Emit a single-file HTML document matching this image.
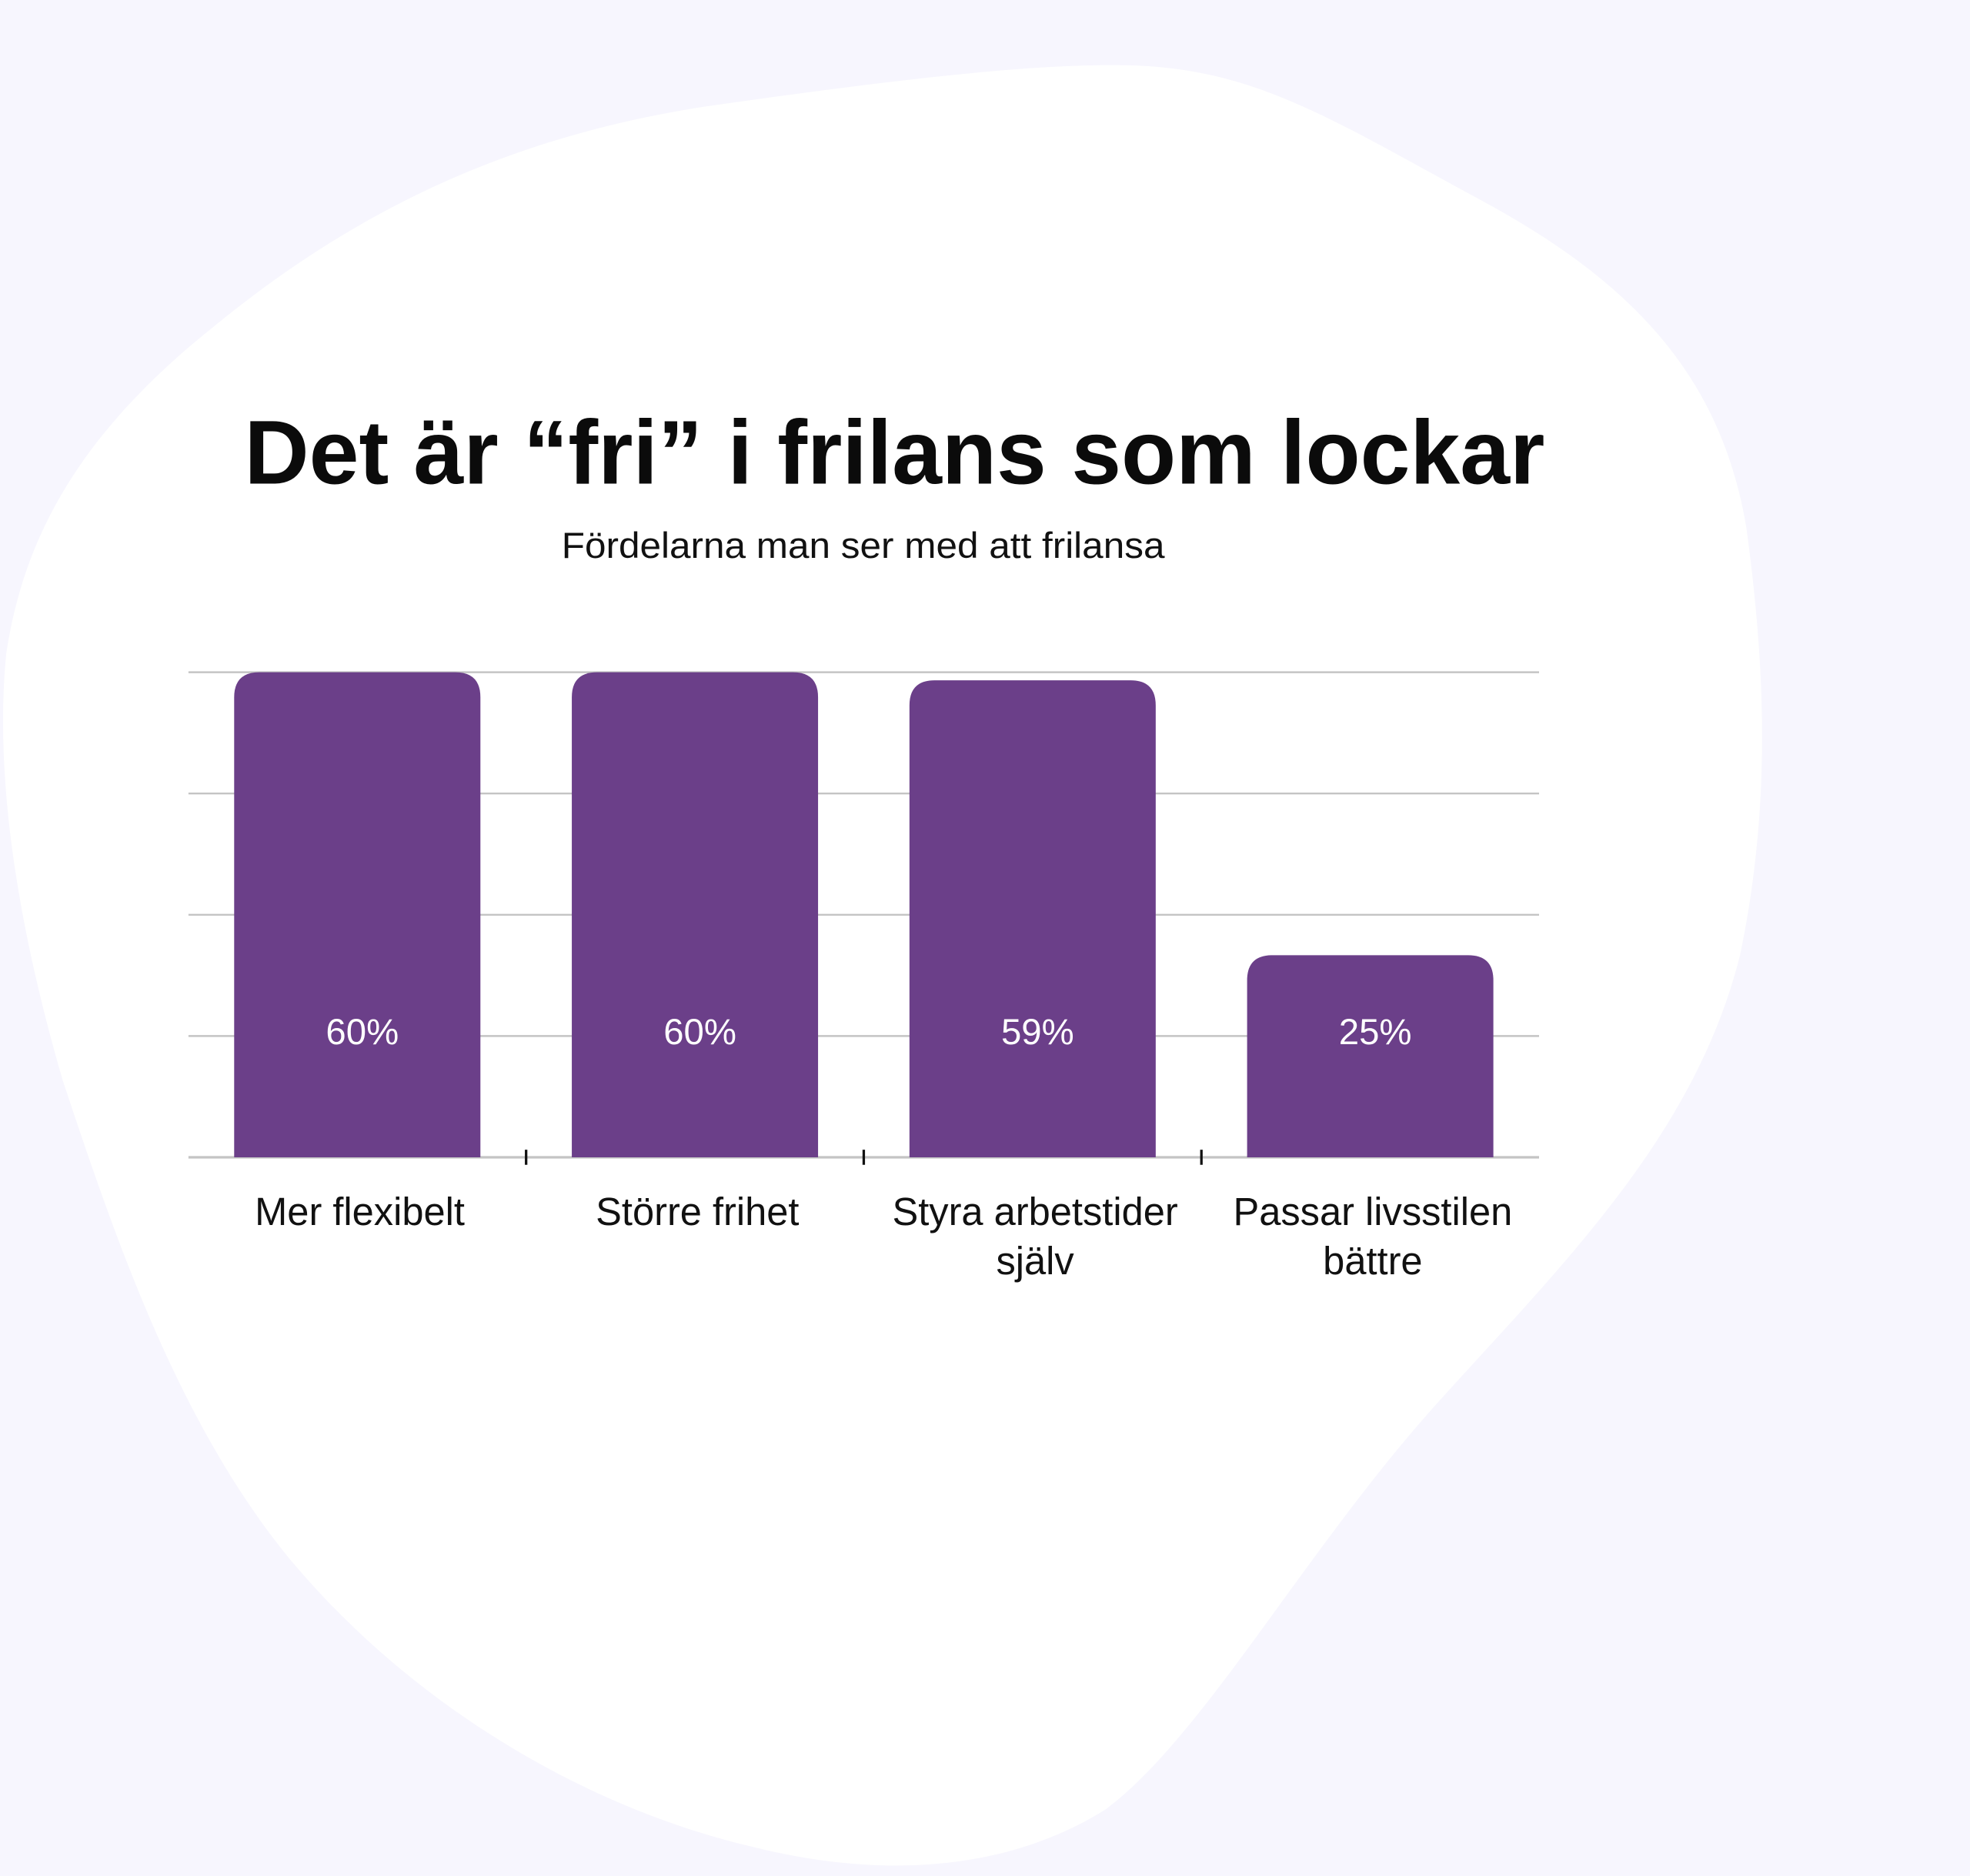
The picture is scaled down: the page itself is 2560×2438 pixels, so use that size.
<!DOCTYPE html>
<html><head><meta charset="utf-8"><style>
html,body{margin:0;padding:0;background:#f7f6fe;}
svg{display:block;}
</style></head><body>
<svg id="chart" width="2560" height="2438" viewBox="0 0 1568 1493" preserveAspectRatio="none" xmlns="http://www.w3.org/2000/svg">
<rect x="0" y="0" width="1568" height="1493" fill="#f7f6fe"/>
<path fill="#ffffff" d="M900,52 C1000,55 1060,95 1180,160 C1300,225 1370,300 1390,420 C1405,530 1410,640 1385,760 C1350,900 1250,1000 1150,1110 C1040,1230 960,1380 880,1440 C800,1490 700,1495 600,1470 C470,1440 330,1360 230,1240 C140,1130 90,980 50,860 C15,740 -5,620 5,520 C20,420 70,340 170,260 C280,170 400,110 560,85 C700,65 820,50 900,52 Z"/>
<text x="712" y="385" text-anchor="middle" font-family="Liberation Sans, sans-serif" font-weight="bold" font-size="72" textLength="1035" lengthAdjust="spacingAndGlyphs" fill="#0b0b0b">Det är “fri” i frilans som lockar</text>
<text x="687" y="444" text-anchor="middle" font-family="Liberation Sans, sans-serif" font-size="29" textLength="480" lengthAdjust="spacingAndGlyphs" fill="#111">Fördelarna man ser med att frilansa</text>
<g id="grid"></g><g id="bars"></g><g id="labels"></g>
</svg>
<script>
const categories = [["Mer flexibelt"], ["Större frihet"], ["Styra arbetstider", "själv"], ["Passar livsstilen", "bättre"]];
const values = [60, 60, 59, 25];
const valueLabels = ["60%", "60%", "59%", "25%"];
const yTicks = [0, 15, 30, 45, 60];

const NS = "http://www.w3.org/2000/svg";
const plotL = 150, plotR = 1225, plotTop = 535, plotBot = 921, yMax = 60;
const band = (plotR - plotL) / categories.length;
const y = v => plotBot - (plotBot - plotTop) * v / yMax;
const xc = i => plotL + band * (i + 0.5);
const barW = 196, r = 20;
function mk(tag, attrs, parent){const e=document.createElementNS(NS,tag);for(const k in attrs)e.setAttribute(k,attrs[k]);parent.appendChild(e);return e;}
const grid = document.getElementById("grid"), bars = document.getElementById("bars"), labels = document.getElementById("labels");
yTicks.forEach(t => {
  const l = mk("line",{x1:plotL,x2:plotR,y1:y(t),y2:y(t),stroke:"#c4c4c4","stroke-width":t===0?2:1.5},grid);
  
  
});
for (let i = 1; i < categories.length; i++) {
  const tk = mk("line",{x1:plotL+band*i,x2:plotL+band*i,y1:plotBot-6,y2:plotBot+6,stroke:"#111","stroke-width":2},grid);
  
  
}
values.forEach((v, i) => {
  const x0 = xc(i) - barW/2, x1 = x0 + barW, top = y(v), b = plotBot;
  const p = mk("path",{d:`M${x0},${b} L${x0},${top+r} Q${x0},${top} ${x0+r},${top} L${x1-r},${top} Q${x1},${top} ${x1},${top+r} L${x1},${b} Z`,fill:"#6b3f89"},bars);
  
  
  const vt = mk("text",{x:xc(i)+4,y:831,"text-anchor":"middle","font-family":"Liberation Sans, sans-serif","font-size":29,fill:"#ffffff"},labels);
  vt.textContent = valueLabels[i];
  
  
  categories[i].forEach((line, j) => {
    const ct = mk("text",{x:xc(i)+2,y:975+j*39,"text-anchor":"middle","font-family":"Liberation Sans, sans-serif","font-size":31,fill:"#111"},labels);
    ct.textContent = line;
    
    
  });
});
</script>
</body></html>
